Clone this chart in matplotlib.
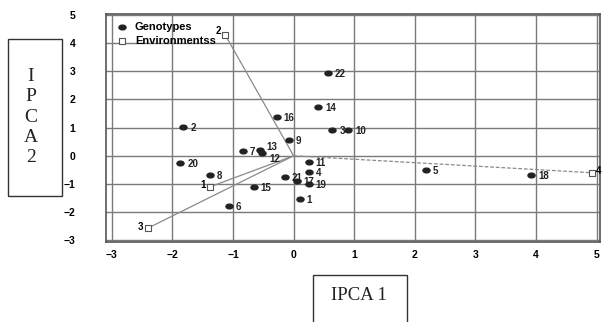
import matplotlib
matplotlib.use("Agg")
import matplotlib.pyplot as plt
from matplotlib.patches import Rectangle
from matplotlib.path import Path
from matplotlib.transforms import Affine2D

# Genotype scores
gen_labels = ["1", "2", "3", "4", "5", "6", "7", "8", "9", "10", "11",
              "12", "13", "14", "15", "16", "17", "18", "19", "20", "21", "22"]
gen_ipca1 = [0.10, -1.82, 0.64, 0.25, 2.18, -1.07, -0.84, -1.38, -0.08, 0.90, 0.25,
             -0.52, -0.56, 0.41, -0.66, -0.28, 0.05, 3.92, 0.25, -1.87, -0.15, 0.56]
gen_ipca2 = [-1.52, 1.03, 0.92, -0.57, -0.50, -1.77, 0.18, -0.67, 0.57, 0.92, -0.21,
             0.10, 0.21, 1.74, -1.10, 1.38, -0.89, -0.67, -0.99, -0.25, -0.74, 2.94]

# Environment scores
env_labels = ["1", "2", "3", "4"]
env_ipca1 = [-1.38, -1.13, -2.41, 4.92]
env_ipca2 = [-1.10, 4.29, -2.57, -0.60]

x_ticks = [-3, -2, -1, 0, 1, 2, 3, 4, 5]
y_ticks = [-3, -2, -1, 0, 1, 2, 3, 4, 5]

ellipse = Path.unit_circle().transformed(Affine2D().scale(1.35, 0.9))

fig = plt.figure(figsize=(6.04, 3.22), dpi=100)
ax = fig.add_axes([0.175, 0.248, 0.818, 0.709])
ax.set_xlim(-3.1, 5.05)
ax.set_ylim(-3.06, 5.03)

ax.set_xticks(x_ticks)
ax.set_yticks(y_ticks)
ax.grid(True, color="#7a7a7a", linewidth=1.0)
ax.set_axisbelow(True)
for s in ax.spines.values():
    s.set_color("#555555")
    s.set_linewidth(1.2)
ax.tick_params(length=0, labelsize=7.5)
ax.tick_params(axis="y", pad=22)
ax.tick_params(axis="x", pad=6)
for lab in ax.get_xticklabels() + ax.get_yticklabels():
    lab.set_fontweight("bold")
    lab.set_family("Liberation Sans")

# vectors from origin to environments
for ex, ey, lab in zip(env_ipca1, env_ipca2, env_labels):
    ls = (0, (3, 1.5)) if lab == "4" else "-"
    ax.plot([0, ex], [0, ey], color="#8a8a8a", linewidth=0.9, linestyle=ls, zorder=2)

ax.scatter(gen_ipca1, gen_ipca2, s=26, color="#222222", marker=ellipse, zorder=4,
           label="Genotypes")
label_dy = {"12": -4, "13": 2}
for gx, gy, lab in zip(gen_ipca1, gen_ipca2, gen_labels):
    ax.annotate(lab, (gx, gy), xytext=(5, label_dy.get(lab, -1)),
                textcoords="offset points",
                fontsize=7, fontweight="bold", family="Liberation Sans",
                color="#222222", va="center", ha="left", zorder=5)

ax.scatter(env_ipca1, env_ipca2, s=14, marker="s", facecolor="white",
           edgecolor="#555555", linewidths=0.8, zorder=4, label="Environmentss")
for ex, ey, lab in zip(env_ipca1, env_ipca2, env_labels):
    if lab == "4":
        ax.annotate(lab, (ex, ey), xytext=(3, 1), textcoords="offset points",
                    fontsize=7, fontweight="bold", family="Liberation Sans",
                    va="center", ha="left", annotation_clip=False)
    else:
        dy = 3 if lab == "2" else 1
        ax.annotate(lab, (ex, ey), xytext=(-3, dy), textcoords="offset points",
                    fontsize=7, fontweight="bold", family="Liberation Sans",
                    va="center", ha="right")

leg = ax.legend(loc="upper left", frameon=False, handletextpad=0.6,
                bbox_to_anchor=(0.005, 0.995), borderaxespad=0.2,
                labelspacing=0.4, handlelength=1.2,
                prop={"family": "Liberation Sans", "weight": "bold", "size": 8})

# axis title boxes
fig.patches.append(Rectangle((8 / 604, 1 - 196 / 322), 54 / 604, 157 / 322,
                             transform=fig.transFigure, fill=False,
                             edgecolor="#333333", linewidth=1.0))
fig.text(31 / 604, 1 - 117 / 322, "I\nP\nC\nA\n2", ha="center", va="center",
         fontsize=14, family="Liberation Serif", linespacing=1.25, color="#222222")

fig.patches.append(Rectangle((313 / 604, -0.02), 94 / 604, 0.02 + 47 / 322,
                             transform=fig.transFigure, fill=False,
                             edgecolor="#333333", linewidth=1.0))
fig.text(359 / 604, 1 - 296 / 322, "IPCA 1", ha="center", va="center",
         fontsize=13.5, family="Liberation Serif", color="#222222")

fig.savefig("out.png", dpi=100)
